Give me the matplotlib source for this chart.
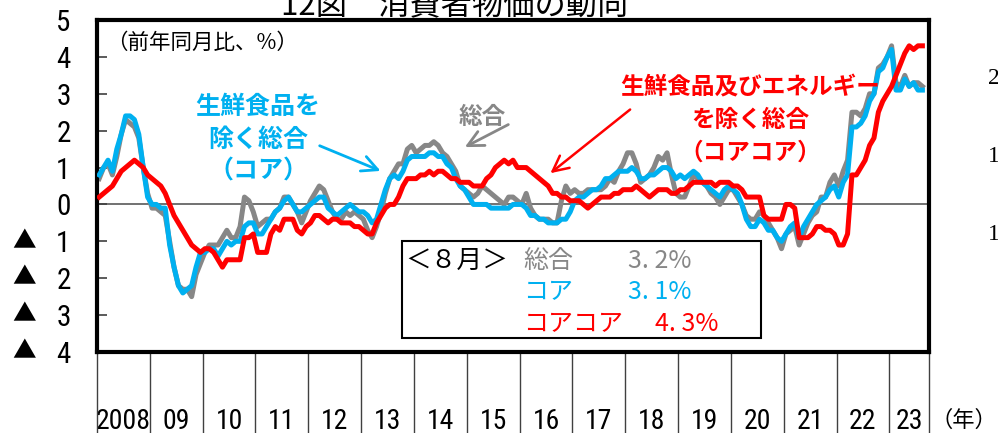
import matplotlib
matplotlib.use("Agg")
import matplotlib.pyplot as plt
import numpy as np
from matplotlib import font_manager
from matplotlib.font_manager import FontProperties
from matplotlib.patches import Rectangle

plt.rcParams['font.family'] = ['Noto Sans CJK JP', 'DejaVu Sans']


def narrow_font(size):
    narrow = []
    for f in font_manager.fontManager.ttflist:
        nm = f.name
        st = str(f.stretch)
        if ('Narrow' in nm or 'Condensed' in nm or st in ('condensed', 'semi-condensed',
                                                          'extra-condensed')) \
                and 'Serif' not in nm and 'Mono' not in nm and f.style == 'normal' \
                and f.weight in (400, 'normal', 'regular'):
            narrow.append(f)
    narrow.sort(key=lambda f: (0 if 'Liberation' in f.name else 1 if 'Roboto' in f.name
                               else 2 if 'DejaVu' in f.name else 3))
    if narrow:
        return FontProperties(fname=narrow[0].fname, size=size), True
    return FontProperties(family='DejaVu Sans', size=size), False


# ---------------- data (YoY %, monthly, 2008/01 - 2023/08) ----------------
year_labels = ['2008', '09', '10', '11', '12', '13', '14', '15', '16', '17',
               '18', '19', '20', '21', '22', '23']

headline = [
    0.7, 1.0, 1.1, 0.8, 1.3, 1.9, 2.3, 2.2, 2.1, 1.8, 1.0, 0.3,        # 2008
    -0.1, -0.1, -0.2, -0.3, -1.0, -1.7, -2.2, -2.3, -2.3, -2.5, -1.9, -1.6,  # 2009
    -1.3, -1.1, -1.1, -1.1, -0.9, -0.7, -0.9, -0.9, -0.6, 0.2, 0.1, -0.2,  # 2010
    -0.6, -0.5, -0.4, -0.4, -0.2, -0.1, 0.2, 0.2, 0.0, -0.2, -0.5, -0.2,   # 2011
    0.1, 0.3, 0.5, 0.4, 0.1, -0.2, -0.4, -0.4, -0.2, -0.3, -0.2, -0.3,     # 2012
    -0.4, -0.7, -0.9, -0.6, -0.2, 0.3, 0.7, 0.9, 1.1, 1.1, 1.5, 1.6,       # 2013
    1.4, 1.5, 1.6, 1.6, 1.7, 1.6, 1.4, 1.3, 1.1, 0.9, 0.5, 0.4,           # 2014
    0.3, 0.2, 0.3, 0.5, 0.4, 0.3, 0.2, 0.1, 0.0, 0.2, 0.2, 0.1,           # 2015
    0.0, 0.3, -0.1, -0.3, -0.4, -0.4, -0.4, -0.5, -0.5, 0.1, 0.5, 0.3,     # 2016
    0.4, 0.3, 0.3, 0.4, 0.4, 0.4, 0.4, 0.5, 0.7, 0.6, 0.9, 1.1,           # 2017
    1.4, 1.4, 1.1, 0.6, 0.7, 0.8, 1.0, 1.3, 1.2, 1.4, 0.8, 0.3,           # 2018
    0.2, 0.2, 0.5, 0.8, 0.7, 0.6, 0.5, 0.3, 0.2, 0.0, 0.2, 0.4,           # 2019
    0.4, 0.2, 0.0, -0.3, -0.4, -0.4, -0.2, -0.3, -0.5, -0.7, -0.9, -1.2,   # 2020
    -0.8, -0.7, -0.6, -1.1, -0.8, -0.5, -0.3, -0.2, 0.2, 0.2, 0.6, 0.8,    # 2021
    0.5, 0.9, 1.2, 2.5, 2.5, 2.4, 2.6, 3.0, 3.0, 3.7, 3.8, 4.0,           # 2022
    4.3, 3.3, 3.2, 3.5, 3.2, 3.3, 3.3, 3.2,                               # 2023
]

core = [
    0.8, 1.0, 1.2, 0.9, 1.5, 1.9, 2.4, 2.4, 2.3, 1.9, 1.0, 0.2,
    0.0, 0.0, -0.1, -0.1, -1.1, -1.7, -2.2, -2.4, -2.3, -2.2, -1.7, -1.3,
    -1.3, -1.2, -1.2, -1.4, -1.2, -1.0, -1.1, -1.0, -1.0, -0.6, -0.5, -0.5,
    -0.8, -0.8, -0.6, -0.4, -0.2, -0.1, 0.1, 0.2, 0.0, -0.2, -0.2, -0.1,
    0.0, 0.1, 0.2, 0.2, -0.1, -0.2, -0.3, -0.2, -0.1, 0.0, -0.1, -0.2,
    -0.2, -0.3, -0.5, -0.4, 0.0, 0.4, 0.7, 0.8, 0.7, 0.9, 1.2, 1.3,
    1.3, 1.3, 1.3, 1.4, 1.4, 1.3, 1.3, 1.1, 1.0, 0.7, 0.5, 0.4,
    0.2, 0.0, 0.0, 0.0, 0.0, -0.1, -0.1, -0.1, -0.1, -0.1, 0.0, 0.0,
    0.0, -0.1, -0.3, -0.3, -0.4, -0.4, -0.5, -0.5, -0.5, -0.4, -0.4, -0.2,
    0.1, 0.2, 0.2, 0.3, 0.4, 0.4, 0.5, 0.7, 0.7, 0.8, 0.9, 0.9,
    0.9, 1.0, 0.9, 0.7, 0.7, 0.8, 0.8, 0.9, 1.0, 1.0, 0.9, 0.7,
    0.8, 0.7, 0.8, 0.9, 0.8, 0.6, 0.5, 0.4, 0.3, 0.2, 0.4, 0.5,
    0.4, 0.3, 0.0, -0.4, -0.6, -0.6, -0.4, -0.5, -0.7, -0.7, -0.9, -1.0,
    -0.8, -0.6, -0.5, -0.9, -0.6, -0.4, -0.2, 0.0, 0.1, 0.2, 0.4, 0.5,
    0.2, 0.6, 0.8, 2.1, 2.1, 2.2, 2.4, 2.8, 3.0, 3.6, 3.7, 4.0,
    4.2, 3.1, 3.1, 3.4, 3.2, 3.3, 3.1, 3.1,
]

core_core = [
    0.2, 0.3, 0.4, 0.5, 0.7, 0.9, 1.0, 1.1, 1.2, 1.1, 1.0, 0.8,
    0.7, 0.6, 0.5, 0.3, 0.0, -0.3, -0.5, -0.7, -0.9, -1.1, -1.2, -1.3,
    -1.2, -1.2, -1.3, -1.5, -1.7, -1.5, -1.5, -1.5, -1.5, -0.9, -0.9, -0.8,
    -1.3, -1.3, -1.3, -0.8, -0.6, -0.7, -0.4, -0.4, -0.4, -0.7, -0.8, -0.6,
    -0.5, -0.3, -0.3, -0.4, -0.5, -0.4, -0.4, -0.5, -0.5, -0.5, -0.6, -0.6,
    -0.7, -0.8, -0.8, -0.5, -0.3, -0.1, 0.0, 0.0, 0.2, 0.5, 0.7, 0.7,
    0.7, 0.8, 0.8, 0.9, 0.8, 0.9, 0.9, 0.8, 0.7, 0.7, 0.6, 0.6,
    0.6, 0.5, 0.5, 0.5, 0.7, 0.8, 1.0, 1.1, 1.2, 1.1, 1.2, 1.0,
    1.0, 1.0, 0.9, 0.8, 0.7, 0.6, 0.5, 0.3, 0.3, 0.2, 0.2, 0.1,
    0.1, 0.1, 0.0, -0.1, 0.0, 0.1, 0.2, 0.2, 0.2, 0.3, 0.3, 0.4,
    0.4, 0.4, 0.5, 0.4, 0.3, 0.2, 0.3, 0.4, 0.4, 0.4, 0.3, 0.3,
    0.4, 0.4, 0.5, 0.6, 0.6, 0.6, 0.6, 0.6, 0.5, 0.6, 0.6, 0.6,
    0.5, 0.5, 0.4, 0.2, 0.2, 0.2, 0.2, -0.3, -0.4, -0.4, -0.4, -0.4,
    0.0, 0.0, -0.1, -0.9, -0.9, -0.9, -0.8, -0.6, -0.6, -0.7, -0.7, -0.8,
    -1.1, -1.1, -0.8, 0.8, 0.8, 1.0, 1.2, 1.6, 1.8, 2.5, 2.8, 3.0,
    3.2, 3.5, 3.8, 4.1, 4.3, 4.2, 4.3, 4.3,
]

latest_labels = ['総合', 'コア', 'コアコア']
latest_values = ['3. 2%', '3. 1%', '4. 3%']

GRAY = '#878787'
BLUE = '#00B0F0'
RED = '#FF0000'

# ---------------- figure ----------------
W, H = 998, 433
fig = plt.figure(figsize=(W / 100, H / 100), dpi=100)
ax = fig.add_axes([97 / W, (H - 352) / H, (929 - 97) / W, (352 - 20) / H])

n = len(headline)
x = np.arange(n) + 0.5
n_months = 12 * (len(year_labels) - 1) + 9
ax.set_xlim(0, n_months)
ax.set_ylim(-4, 5)

ax.axhline(0, color='#595959', lw=1.2, zorder=1)
ax.plot(x, headline, color=GRAY, lw=3.6, zorder=2, solid_joinstyle='round')
ax.plot(x, core, color=BLUE, lw=3.6, zorder=3, solid_joinstyle='round')
ax.plot(x, core_core, color=RED, lw=3.6, zorder=4, solid_joinstyle='round')

for s in ax.spines.values():
    s.set_linewidth(3.0)
    s.set_color('black')

# y ticks
fp_y, has_narrow = narrow_font(21)
yt = list(range(-4, 6))
ax.set_yticks(yt)
ax.set_yticklabels([str(abs(v)) for v in yt], fontproperties=fp_y)
ax.tick_params(axis='y', direction='in', length=7, width=1.2, color='#404040', pad=19)
for v in yt:
    if v < 0:
        ax.text(-0.088, v, '▲', transform=ax.get_yaxis_transform(),
                ha='center', va='center', fontsize=17, color='black')

# x ticks: year labels centred in each year cell
fp_x, _ = narrow_font(20 if has_narrow else 15)
bounds = [12 * i for i in range(len(year_labels))] + [n_months]
centers = [(bounds[i] + bounds[i + 1]) / 2 for i in range(len(year_labels))]
ax.set_xticks(centers)
ax.set_xticklabels(year_labels, fontproperties=fp_x)
ax.tick_params(axis='x', length=0, pad=40 if has_narrow else 43)
ax.vlines(bounds, -0.3, 0, transform=ax.get_xaxis_transform(), clip_on=False,
          color='#404040', lw=1.0)
fig.text(997 / W, (H - 420) / H, '（年）', ha='right', va='center', fontsize=16)

# unit note
ax.text(2.0, 4.38, '（前年同月比、%）', ha='left', va='center', fontsize=15.5)

# series annotations
for t, yy in zip(['生鮮食品を', '除く総合', '（コア）'], [2.65, 1.76, 0.89]):
    ax.text(36.6, yy, t, ha='center', va='center', fontsize=18,
            fontweight='bold', color=BLUE)
ax.annotate('', xy=(65.0, 0.88), xytext=(50.0, 1.62),
            arrowprops=dict(arrowstyle='->', color=BLUE, lw=2, mutation_scale=28))

ax.text(87.5, 2.38, '総合', ha='center', va='center', fontsize=17,
        fontweight='bold', color=GRAY)
ax.annotate('', xy=(83.0, 1.52), xytext=(94.0, 2.2),
            arrowprops=dict(arrowstyle='->', color=GRAY, lw=2, mutation_scale=28))

for t, yy in zip(['生鮮食品及びエネルギー', 'を除く総合', '（コアコア）'], [3.16, 2.30, 1.41]):
    ax.text(148.4, yy, t, ha='center', va='center', fontsize=17,
            fontweight='bold', color=RED)
ax.annotate('', xy=(102.5, 0.8), xytext=(121.6, 2.62),
            arrowprops=dict(arrowstyle='->', color=RED, lw=1.8, mutation_scale=28))

# latest-month box
ax.add_patch(Rectangle((69.3, -3.62), 81.6, 2.62, facecolor='white',
                       edgecolor='black', lw=1.5, zorder=5))
ax.text(70.0, -1.54, '＜８月＞', ha='left', va='center', fontsize=18.5, zorder=6)
for lab, val, col, yy, xv in zip(latest_labels, latest_values, [GRAY, BLUE, RED],
                                [-1.54, -2.38, -3.24], [120.7, 120.7, 126.8]):
    ax.text(96.8, yy, lab, ha='left', va='center', fontsize=18, color=col, zorder=6)
    ax.text(xv, yy, val, ha='left', va='center', fontsize=18, color=col, zorder=6)

# clipped title and neighbouring-chart remnants
fig.text(455 / W, (H - 15) / H, '12図　消費者物価の動向', ha='center',
         va='baseline', fontsize=22.5)
for t, yy in [('2', 79), ('1', 156), ('1', 234)]:
    fig.text(988 / W, (H - yy) / H, t, ha='left', va='center', fontsize=17,
             family='Liberation Serif')

fig.savefig('out.png', dpi=100)
